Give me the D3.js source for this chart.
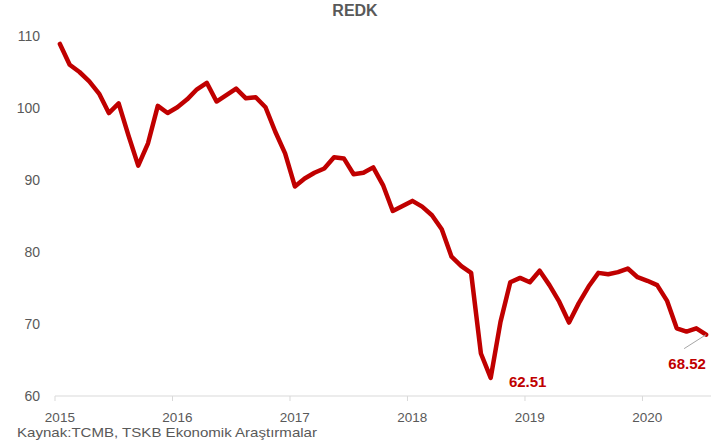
<!DOCTYPE html>
<html>
<head>
<meta charset="utf-8">
<script src="https://cdn.jsdelivr.net/npm/d3@7"></script>
<style>
  html, body { margin: 0; padding: 0; background: #fff; }
  svg { display: block; font-family: "Liberation Sans", Arial, sans-serif; }
</style>
</head>
<body>
<svg id="chart" width="727" height="446"></svg>
<script>
// ---- Data (monthly, Jan 2015 – Jul 2020) ----
const title = "REDK";
const source = "Kaynak:TCMB, TSKB Ekonomik Araştırmalar";
const yearLabels = ["2015", "2016", "2017", "2018", "2019", "2020"];
const yTicks = [60, 70, 80, 90, 100, 110];
const v2015 = [108.9, 106.0, 105.0, 103.7, 102.0, 99.3, 100.65, 96.2, 92.0, 95.1, 100.3, 99.3];
const v2016 = [100.1, 101.2, 102.6, 103.5, 100.9, 101.8, 102.7, 101.35, 101.5, 100.1, 96.7, 93.7];
const v2017 = [89.1, 90.2, 91.0, 91.6, 93.15, 93.0, 90.8, 91.0, 91.75, 89.3, 85.7, 86.4];
const v2018 = [87.1, 86.3, 85.1, 83.15, 79.35, 78.05, 77.1, 65.9, 62.51, 70.3, 75.8, 76.4];
const v2019 = [75.8, 77.4, 75.4, 73.1, 70.2, 72.9, 75.2, 77.1, 76.9, 77.2, 77.7, 76.5];
const v2020 = [76.0, 75.4, 73.25, 69.4, 68.95, 69.4, 68.52];
const values = [].concat(v2015, v2016, v2017, v2018, v2019, v2020);
const annotations = [
  { index: 44, text: "62.51" },
  { index: 66, text: "68.52" }
];

// ---- Layout ----
const svg = d3.select("#chart");
const mLeft = 55, mRight = 711, mTop = 36, mBottom = 396;
const red = "#C00000", gray = "#595959";

const x = d3.scaleBand().domain(d3.range(values.length)).range([mLeft, mRight]).padding(0);
const cx = i => x(i) + x.bandwidth() / 2;
const y = d3.scaleLinear().domain([60, 110]).range([mBottom, mTop]);

// Title
svg.append("text").attr("x", 355).attr("y", 16).attr("text-anchor", "middle")
  .attr("font-size", 16).attr("font-weight", "bold").attr("fill", gray).text(title);

// Y axis (labels only)
const yAxis = svg.append("g").attr("transform", `translate(${mLeft - 15},0)`)
  .call(d3.axisLeft(y).tickValues(yTicks).tickSize(0).tickPadding(0));
yAxis.select(".domain").remove();
yAxis.selectAll("text").attr("font-size", 14).attr("fill", gray)
  .attr("font-family", "Liberation Sans, Arial, sans-serif");

// X axis line + year ticks
const xAxisG = svg.append("g");
xAxisG.append("line").attr("x1", mLeft).attr("x2", mRight).attr("y1", mBottom).attr("y2", mBottom)
  .attr("stroke", "#D9D9D9").attr("stroke-width", 1);
xAxisG.selectAll("line.tick").data(yearLabels).join("line").attr("class", "tick")
  .attr("x1", (d, k) => x(k * 12)).attr("x2", (d, k) => x(k * 12))
  .attr("y1", mBottom).attr("y2", mBottom + 5).attr("stroke", "#D9D9D9");
xAxisG.selectAll("text").data(yearLabels).join("text")
  .attr("x", (d, k) => cx(k * 12)).attr("y", 422).attr("text-anchor", "middle")
  .attr("font-size", 13.5).attr("fill", gray).text(d => d);

// Line
const line = d3.line().x((d, i) => cx(i)).y(d => y(d));
svg.append("path").datum(values).attr("d", line).attr("fill", "none")
  .attr("stroke", red).attr("stroke-width", 4.5)
  .attr("stroke-linejoin", "round").attr("stroke-linecap", "round");

// Annotations
const a1 = annotations[0], a2 = annotations[1];
svg.append("text").attr("x", cx(a1.index) + 37).attr("y", y(values[a1.index]) + 9)
  .attr("text-anchor", "middle").attr("font-size", 15).attr("font-weight", "bold")
  .attr("fill", red).text(a1.text);
svg.append("line")
  .attr("x1", cx(a2.index)).attr("y1", y(values[a2.index]))
  .attr("x2", cx(a2.index) - 22).attr("y2", y(values[a2.index]) + 14)
  .attr("stroke", "#A6A6A6").attr("stroke-width", 1);
svg.append("text").attr("x", cx(a2.index) - 19).attr("y", y(values[a2.index]) + 34)
  .attr("text-anchor", "middle").attr("font-size", 15).attr("font-weight", "bold")
  .attr("fill", red).text(a2.text);

// Source
svg.append("text").attr("x", 17).attr("y", 437).attr("font-size", 13).attr("fill", gray)
  .attr("textLength", 300).attr("lengthAdjust", "spacingAndGlyphs").text(source);
</script>
</body>
</html>
